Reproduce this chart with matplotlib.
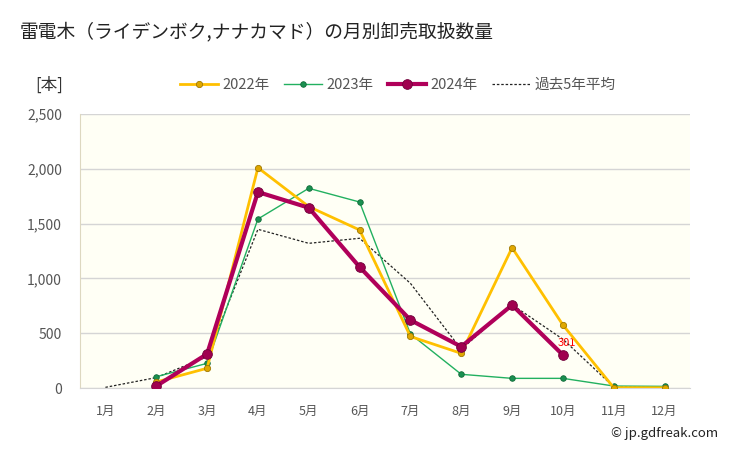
import matplotlib
matplotlib.use("Agg")
import matplotlib.pyplot as plt
import numpy as np

plt.rcParams['font.family'] = ['Noto Sans CJK JP', 'DejaVu Sans']

months = ['1月', '2月', '3月', '4月', '5月', '6月', '7月', '8月', '9月', '10月', '11月', '12月']
v2022 = [np.nan, 55, 180, 2010, 1655, 1442, 470, 316, 1280, 575, 3, 2]
v2023 = [np.nan, 103, 225, 1542, 1822, 1697, 493, 125, 88, 88, 18, 15]
v2024 = [np.nan, 18, 310, 1788, 1645, 1104, 620, 377, 757, 301, np.nan, np.nan]
avg5 = [6, 95, 285, 1448, 1320, 1366, 955, 353, 760, 445, 10, 5]
labels = ['2022年', '2023年', '2024年', '過去5年平均']
yticks = [0, 500, 1000, 1500, 2000, 2500]

fig = plt.figure(figsize=(7.29, 4.5), dpi=100)
ax = fig.add_axes([80/729, 1-388/450, 610/729, 274/450])
ax.set_facecolor('#FFFFF5')
x = np.arange(1, 13)

ax.plot(x, v2022, color='#FFC000', lw=2, marker='o', ms=4.5,
        mfc='#E0A800', mec='#A07800', mew=0.6, label=labels[0], zorder=4)
ax.plot(x, v2023, color='#22B060', lw=1, marker='o', ms=4,
        mfc='#1A9050', mec='#106A38', mew=0.6, label=labels[1], zorder=3)
ax.plot(x, v2024, color='#B0005A', lw=3, marker='o', ms=7,
        mfc='#A0004F', mec='#70003A', mew=0.6, label=labels[2], zorder=5)
ax.plot(x, avg5, color='#222222', lw=0.9, ls=(0, (2, 1.5)), label=labels[3], zorder=2)

ax.annotate(f'{v2024[9]:.0f}', (10, v2024[9]), xytext=(-3.5, 5), textcoords='offset points',
            color='red', fontsize=8, ha='left', va='bottom')

ax.set_xlim(0.5, 12.5)
ax.set_ylim(0, 2500)
ax.set_xticks(x)
ax.set_xticklabels(months)
ax.set_yticks(yticks)
ax.set_yticklabels([f'{v:,}' for v in yticks])
ax.tick_params(axis='both', length=0, colors='#555555', labelsize=9)
ax.tick_params(axis='y', labelsize=10)
ax.tick_params(axis='x', pad=12)
ax.tick_params(axis='y', pad=13)
ax.grid(axis='y', color='#D5D5D5', lw=1)
ax.set_axisbelow(True)
for s in ['top', 'right']:
    ax.spines[s].set_visible(False)
ax.spines['left'].set_color('#DDD8C0')
ax.spines['bottom'].set_color('#D5D5D5')

fig.text(20/729, 1-32/450, '雷電木（ライデンボク,ナナカマド）の月別卸売取扱数量',
         fontsize=13.5, va='center', ha='left', color='#222222')
fig.text(35/729, 1-85/450, '[本]', fontsize=12, va='center', ha='left', color='#333333')
fig.text(718/729, 1-433/450, '© jp.gdfreak.com', fontsize=9.5, va='center', ha='right', color='#222222')

leg = fig.legend(loc='center', bbox_to_anchor=(398/729, 1-85/450), ncol=4, frameon=False,
                 fontsize=10.5, handlelength=2.6, columnspacing=1.0, handletextpad=0.3)
for t in leg.get_texts():
    t.set_color('#555555')

fig.savefig('out.png', dpi=100)
